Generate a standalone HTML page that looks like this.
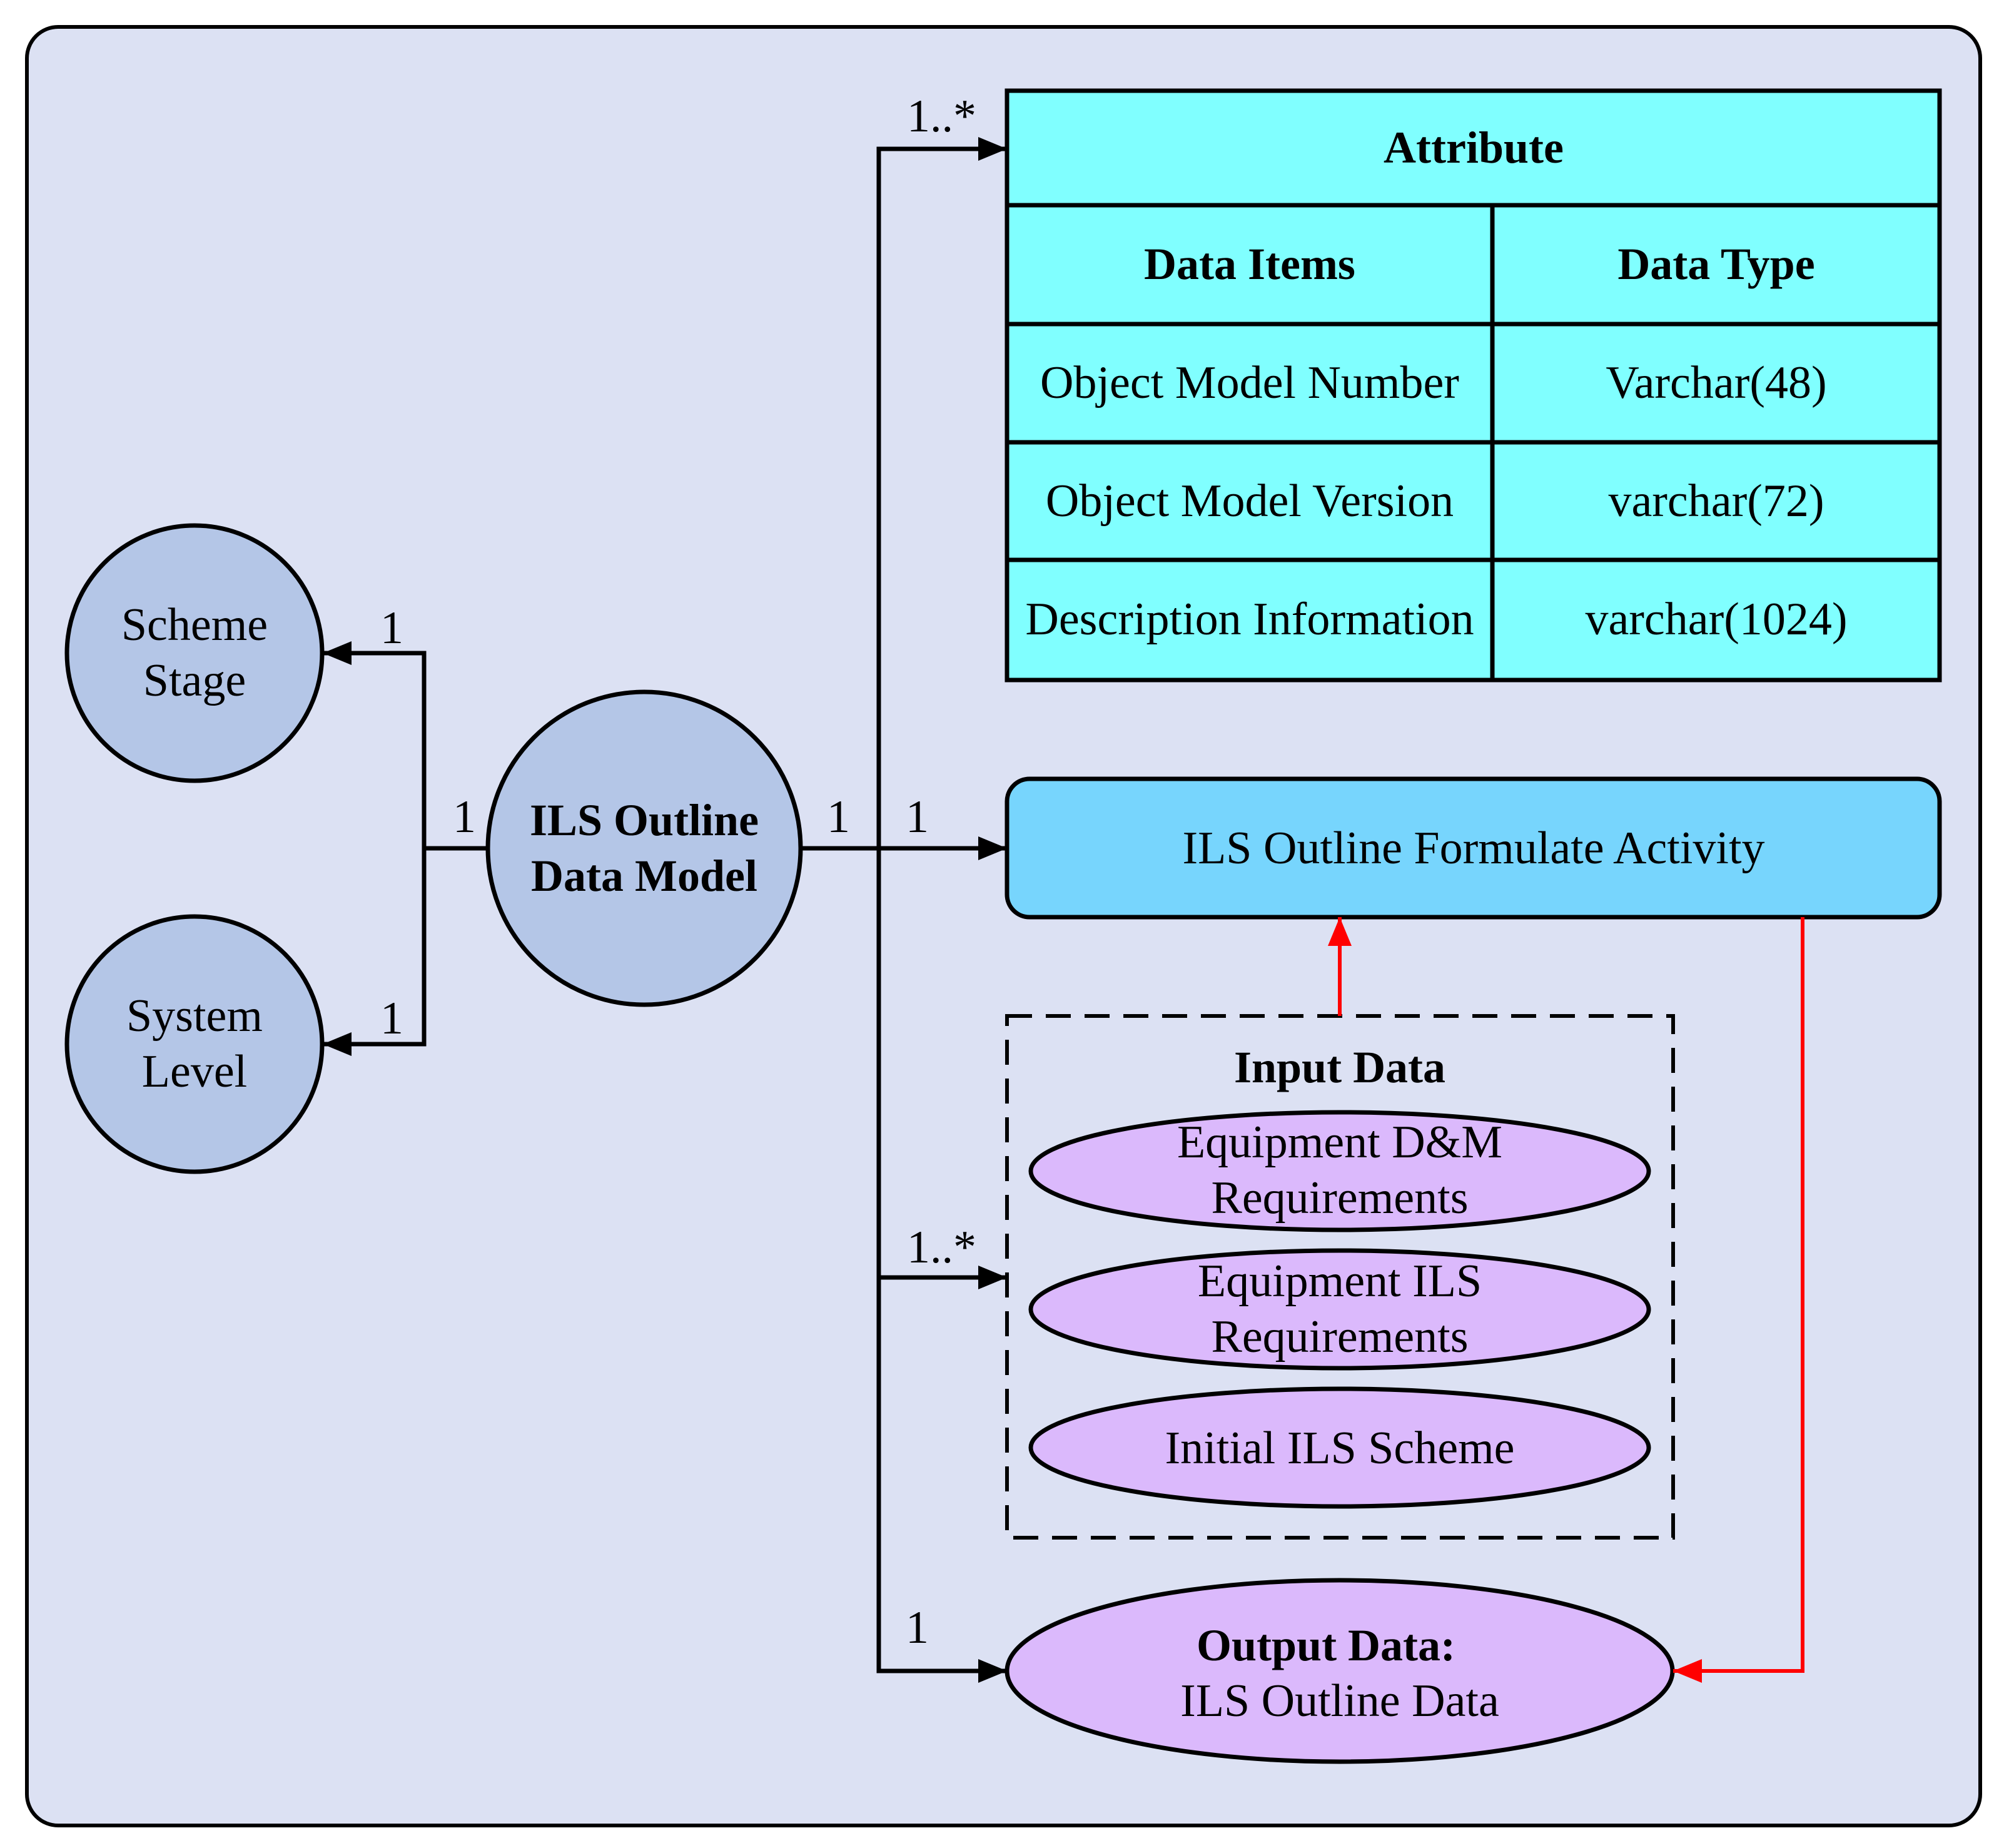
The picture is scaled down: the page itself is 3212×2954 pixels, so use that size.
<!DOCTYPE html>
<html><head><meta charset="utf-8"><style>
html,body{margin:0;padding:0;background:#fff;}
svg{display:block;}
text{font-family:"Liberation Serif",serif;font-size:74px;fill:#000;}
.b{font-weight:bold;font-size:72px;}
</style></head><body>
<svg width="3212" height="2954" viewBox="0 0 3212 2954" xmlns="http://www.w3.org/2000/svg">
<defs>
<marker id="ab" markerWidth="46" markerHeight="38" refX="46" refY="19" markerUnits="userSpaceOnUse" orient="auto"><path d="M0,0 L46,19 L0,38 Z" fill="#000"/></marker>
<marker id="ar" markerWidth="46" markerHeight="38" refX="46" refY="19" markerUnits="userSpaceOnUse" orient="auto"><path d="M0,0 L46,19 L0,38 Z" fill="#ff0000"/></marker>
</defs>
<rect x="0" y="0" width="3212" height="2954" fill="#fff"/>
<rect x="43" y="43" width="3123" height="2875" rx="50" fill="#dce1f3" stroke="#000" stroke-width="6"/>

<!-- table -->
<rect x="1610" y="145" width="1491" height="942" fill="#80ffff" stroke="#000" stroke-width="7"/>
<g stroke="#000" stroke-width="7">
<line x1="1610" y1="328" x2="3101" y2="328"/>
<line x1="1610" y1="518" x2="3101" y2="518"/>
<line x1="1610" y1="707" x2="3101" y2="707"/>
<line x1="1610" y1="895" x2="3101" y2="895"/>
<line x1="2386" y1="328" x2="2386" y2="1087"/>
</g>
<g text-anchor="middle">
<text class="b" x="2356" y="260">Attribute</text>
<text class="b" x="1998" y="446">Data Items</text>
<text class="b" x="2744" y="446">Data Type</text>
<text x="1998" y="636">Object Model Number</text>
<text x="2744" y="636">Varchar(48)</text>
<text x="1998" y="825">Object Model Version</text>
<text x="2744" y="825">varchar(72)</text>
<text x="1998" y="1014">Description Information</text>
<text x="2744" y="1014">varchar(1024)</text>
</g>

<!-- activity -->
<rect x="1610" y="1245" width="1491" height="221" rx="36" fill="#77d5fd" stroke="#000" stroke-width="7"/>
<text x="2356" y="1380" text-anchor="middle">ILS Outline Formulate Activity</text>

<!-- circles -->
<circle cx="311" cy="1044" r="204" fill="#b4c6e7" stroke="#000" stroke-width="7"/>
<circle cx="311" cy="1669" r="204" fill="#b4c6e7" stroke="#000" stroke-width="7"/>
<circle cx="1030" cy="1356" r="250" fill="#b4c6e7" stroke="#000" stroke-width="7"/>
<g text-anchor="middle">
<text x="311" y="1023">Scheme</text>
<text x="311" y="1112">Stage</text>
<text x="311" y="1648">System</text>
<text x="311" y="1737">Level</text>
<text class="b" x="1030" y="1335">ILS Outline</text>
<text class="b" x="1030" y="1424">Data Model</text>
</g>

<!-- black connectors -->
<g stroke="#000" stroke-width="7" fill="none" stroke-linecap="square">
<polyline points="780,1356 678,1356"/>
<polyline points="678,1044 678,1669"/>
<polyline points="678,1044 516,1044" stroke-linecap="butt" marker-end="url(#ab)"/>
<polyline points="678,1669 516,1669" stroke-linecap="butt" marker-end="url(#ab)"/>
<polyline points="1282,1356 1610,1356" stroke-linecap="butt" marker-end="url(#ab)"/>
<polyline points="1405,238 1405,2671"/>
<polyline points="1405,238 1610,238" stroke-linecap="butt" marker-end="url(#ab)"/>
<polyline points="1405,2042 1610,2042" stroke-linecap="butt" marker-end="url(#ab)"/>
<polyline points="1405,2671 1610,2671" stroke-linecap="butt" marker-end="url(#ab)"/>
</g>
<text x="608" y="1028">1</text>
<text x="608" y="1652">1</text>
<text x="724" y="1330">1</text>
<text x="1322" y="1330">1</text>
<text x="1448" y="1330">1</text>
<text x="1448" y="2626">1</text>
<text x="1450" y="210">1..*</text>
<text x="1450" y="2018">1..*</text>

<!-- input dashed box -->
<rect x="1610" y="1624" width="1065" height="834" fill="none" stroke="#000" stroke-width="6" stroke-dasharray="40,22"/>
<text class="b" x="2142" y="1730" text-anchor="middle">Input Data</text>
<g fill="#dbb9fc" stroke="#000" stroke-width="7">
<ellipse cx="2142" cy="1872" rx="494" ry="94"/>
<ellipse cx="2142" cy="2093" rx="494" ry="94"/>
<ellipse cx="2142" cy="2314" rx="494" ry="94"/>
<ellipse cx="2142" cy="2671" rx="532" ry="145"/>
</g>
<g text-anchor="middle">
<text x="2142" y="1850">Equipment D&amp;M</text>
<text x="2142" y="1939">Requirements</text>
<text x="2142" y="2072">Equipment ILS</text>
<text x="2142" y="2161">Requirements</text>
<text x="2142" y="2339">Initial ILS Scheme</text>
<text class="b" x="2120" y="2654">Output Data:</text>
<text x="2142" y="2743">ILS Outline Data</text>
</g>

<!-- red connectors -->
<g stroke="#ff0000" stroke-width="6" fill="none">
<polyline points="2142,1624 2142,1466" marker-end="url(#ar)"/>
<polyline points="2882,1466 2882,2671 2675,2671" marker-end="url(#ar)"/>
</g>
</svg>
</body></html>
